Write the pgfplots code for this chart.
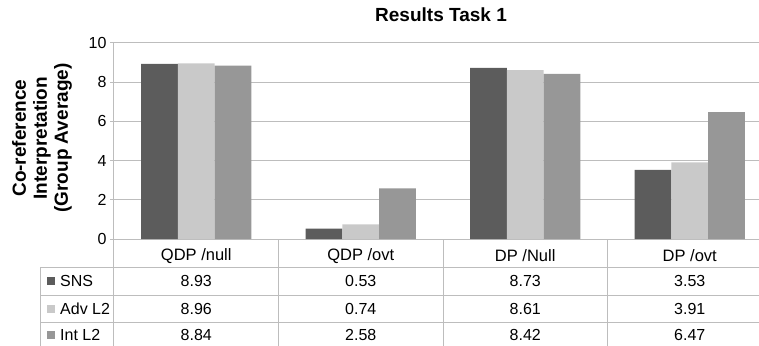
\documentclass[border=0pt]{standalone}
\usepackage{fontspec}
\setmainfont{Liberation Sans}
\usepackage{pgfplots}
\pgfplotsset{compat=1.18}
\definecolor{cSNS}{HTML}{5C5C5C}
\definecolor{cAdv}{HTML}{C9C9C9}
\definecolor{cInt}{HTML}{979797}
\definecolor{gridc}{HTML}{BDBDBD}
\newcommand{\tabfont}{\fontsize{16}{18}\selectfont}
\begin{document}
\begin{tikzpicture}[x=1pt,y=1pt]
\useasboundingbox (-114,-106) rectangle (645,239);
\begin{axis}[
  at={(0,0)}, anchor=south west,
  scale only axis, width=645pt, height=196pt,
  xmin=-0.5, xmax=3.421, ymin=0, ymax=10,
  enlargelimits=false, clip=false,
  ybar=0pt, bar width=36.7pt,
  axis x line*=bottom, axis y line*=left,
  axis line style={gridc, line width=1pt},
  ytick={0,2,4,6,8,10},
  ymajorgrids, grid style={gridc, line width=1pt},
  tick align=outside, major tick length=4pt,
  ytick style={gridc, line width=1pt},
  xtick={0,1,2,3},
  xticklabels={QDP /null, QDP /ovt, DP /Null, DP /ovt},
  xtick style={draw=none},
  xticklabel style={anchor=center, yshift=-13pt, font=\fontsize{16.5}{18}\selectfont},
  yticklabel style={font=\fontsize{16}{18}\selectfont, /pgf/number format/assume math mode=true},
  title={Results Task 1},
  title style={font=\bfseries\fontsize{19}{22}\selectfont, at={(axis description cs:0.507,1)}, anchor=center, yshift=22.5pt},
  ylabel={Co-reference\\Interpretation\\(Group Average)},
  ylabel style={font=\bfseries\fontsize{19}{21}\selectfont, align=center, at={(axis description cs:-0.1116,0.515)}, anchor=center},
]
\addplot[fill=cSNS, draw=none] coordinates {(0,8.93) (1,0.53) (2,8.73) (3,3.53)};
\addplot[fill=cAdv, draw=none] coordinates {(0,8.96) (1,0.74) (2,8.61) (3,3.91)};
\addplot[fill=cInt, draw=none] coordinates {(0,8.84) (1,2.58) (2,8.42) (3,6.47)};
% table grid
\draw[gridc, line width=1pt] (axis cs:-0.5,0) -- ([yshift=-110pt]axis cs:-0.5,0);
\draw[gridc, line width=1pt] (axis cs:0.5,0) -- ([yshift=-110pt]axis cs:0.5,0);
\draw[gridc, line width=1pt] (axis cs:1.5,0) -- ([yshift=-110pt]axis cs:1.5,0);
\draw[gridc, line width=1pt] (axis cs:2.5,0) -- ([yshift=-110pt]axis cs:2.5,0);
\draw[gridc, line width=1pt] ([xshift=-73pt,yshift=-28pt]axis cs:-0.5,0) -- ([xshift=-73pt,yshift=-110pt]axis cs:-0.5,0);
\draw[gridc, line width=1pt] ([xshift=-73pt,yshift=-28pt]axis cs:-0.5,0) -- ([xshift=700pt,yshift=-28pt]axis cs:-0.5,0);
\draw[gridc, line width=1pt] ([xshift=-73pt,yshift=-56pt]axis cs:-0.5,0) -- ([xshift=700pt,yshift=-56pt]axis cs:-0.5,0);
\draw[gridc, line width=1pt] ([xshift=-73pt,yshift=-83pt]axis cs:-0.5,0) -- ([xshift=700pt,yshift=-83pt]axis cs:-0.5,0);
% legend column
\fill[cSNS] ([xshift=-67pt,yshift=-46pt]axis cs:-0.5,0) rectangle ([xshift=-59pt,yshift=-38pt]axis cs:-0.5,0);
\fill[cAdv] ([xshift=-67pt,yshift=-73.5pt]axis cs:-0.5,0) rectangle ([xshift=-59pt,yshift=-65.5pt]axis cs:-0.5,0);
\fill[cInt] ([xshift=-67pt,yshift=-100pt]axis cs:-0.5,0) rectangle ([xshift=-59pt,yshift=-92pt]axis cs:-0.5,0);
\node[anchor=west, inner sep=0pt, font=\tabfont] at ([xshift=-54pt,yshift=-42pt]axis cs:-0.5,0) {SNS};
\node[anchor=west, inner sep=0pt, font=\tabfont] at ([xshift=-54pt,yshift=-69.5pt]axis cs:-0.5,0) {Adv L2};
\node[anchor=west, inner sep=0pt, font=\tabfont] at ([xshift=-54pt,yshift=-96pt]axis cs:-0.5,0) {Int L2};
% values
\node[font=\tabfont] at ([yshift=-42pt]axis cs:0,0) {8.93};
\node[font=\tabfont] at ([yshift=-42pt]axis cs:1,0) {0.53};
\node[font=\tabfont] at ([yshift=-42pt]axis cs:2,0) {8.73};
\node[font=\tabfont] at ([yshift=-42pt]axis cs:3,0) {3.53};
\node[font=\tabfont] at ([yshift=-69.5pt]axis cs:0,0) {8.96};
\node[font=\tabfont] at ([yshift=-69.5pt]axis cs:1,0) {0.74};
\node[font=\tabfont] at ([yshift=-69.5pt]axis cs:2,0) {8.61};
\node[font=\tabfont] at ([yshift=-69.5pt]axis cs:3,0) {3.91};
\node[font=\tabfont] at ([yshift=-96pt]axis cs:0,0) {8.84};
\node[font=\tabfont] at ([yshift=-96pt]axis cs:1,0) {2.58};
\node[font=\tabfont] at ([yshift=-96pt]axis cs:2,0) {8.42};
\node[font=\tabfont] at ([yshift=-96pt]axis cs:3,0) {6.47};
\end{axis}
\end{tikzpicture}
\end{document}
